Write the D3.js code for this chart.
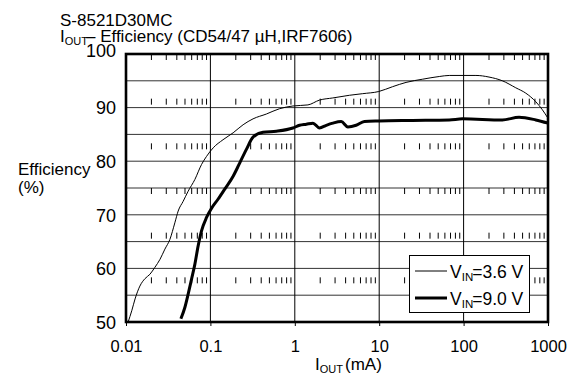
<!DOCTYPE html>
<html><head><meta charset="utf-8">
<script src="https://cdn.jsdelivr.net/npm/d3@7"></script>
<style>
html,body{margin:0;padding:0;background:#fff;}
text{font-family:Arial,"Liberation Sans",sans-serif;fill:#000;}
</style></head>
<body><svg id="c" width="579" height="381"></svg>
<script>
// ---- data ----
const xTickValues = [0.01, 0.1, 1, 10, 100, 1000];
const xTickLabels = ["0.01", "0.1", "1", "10", "100", "1000"];
const yTickValues = [50, 60, 70, 80, 90, 100];
const yGridValues = [55, 60, 65, 70, 75, 80, 85, 90, 95];
const seriesNames = ["3.6 V", "9.0 V"];

const thinI = [0.0106,0.0117,0.0128,0.0146,0.0168,0.0192,0.0220,0.0253,0.0289,0.0331,0.0379,0.0415,0.0475,0.0545,0.0655,0.0786,0.0900,0.108,0.141,0.186,0.244,0.320,0.460,0.661,0.95,1.43,1.96,2.82,4.44,6.38,9.87,14.4,20.8,32.7,51.5,67.6,140,200,288,415,545,716,857,1000];
const thinE = [50,52.1,54.3,56.7,58.1,58.9,60.2,61.7,63.6,65.4,68.5,70.7,72.5,74.4,76.6,79.4,80.9,82.5,84.0,85.3,86.8,87.9,88.8,89.8,90.3,90.5,91.4,91.8,92.3,92.6,93.0,93.9,94.7,95.3,95.8,96.0,96.0,95.7,95.0,93.7,92.7,91.1,89.6,88.0];

const thickI = [0.0447,0.0498,0.0545,0.0598,0.0655,0.0716,0.0785,0.0900,0.103,0.123,0.148,0.186,0.223,0.267,0.320,0.420,0.604,0.95,1.14,1.37,1.64,1.96,2.36,2.82,3.55,4.25,5.33,6.68,10,24.9,67.6,97,288,454,716,1000];
const thickE = [50.6,52.7,55.2,58.0,60.8,64.2,67.0,69.5,71.2,72.9,74.8,77.2,79.7,82.2,84.5,85.4,85.6,86.2,86.7,86.9,87.1,86.2,86.7,87.1,87.4,86.4,86.7,87.4,87.5,87.6,87.7,87.9,87.7,88.2,87.7,87.1];

// ---- layout ----
const L = 126, R = 548, T = 54, B = 322;
const svg = d3.select("#c");
const x = d3.scaleLog().domain([0.01, 1000]).range([L, R]);
const y = d3.scaleLinear().domain([50, 100]).range([B, T]);

// horizontal grid
svg.append("g").selectAll("line").data(yGridValues).join("line")
  .attr("x1", L).attr("x2", R).attr("y1", d => y(d)).attr("y2", d => y(d))
  .attr("stroke", "#333").attr("stroke-width", 1);
// vertical grid at decades
svg.append("g").selectAll("line").data(xTickValues.slice(1, -1)).join("line")
  .attr("x1", d => x(d)).attr("x2", d => x(d)).attr("y1", T).attr("y2", B)
  .attr("stroke", "#000").attr("stroke-width", 1);

// rows of minor ticks
const minor = [];
for (let e = -2; e < 3; e++) for (let m = 2; m <= 9; m++) minor.push(m * Math.pow(10, e));
const rows = d3.range(6).map(k => T + k * (B - T) / 6);
const mg = svg.append("g");
rows.forEach(ry => {
  mg.append("g").selectAll("line").data(minor).join("line")
    .attr("x1", d => x(d)).attr("x2", d => x(d)).attr("y1", ry).attr("y2", ry + 6)
    .attr("stroke", "#000").attr("stroke-width", 1);
});

// bottom axis
const xAxis = d3.axisBottom(x).tickValues(xTickValues).tickFormat((d, i) => xTickLabels[i]).tickSize(4).tickPadding(14);
const gx = svg.append("g").attr("transform", `translate(0,${B})`).call(xAxis);
gx.select(".domain").remove();
gx.selectAll("line").attr("stroke", "#000");
gx.selectAll("text").attr("font-size", 16.5).attr("font-family", "Arial, 'Liberation Sans', sans-serif");

// left axis labels
const yAxis = d3.axisLeft(y).tickValues(yTickValues).tickFormat(d3.format("d")).tickSize(0).tickPadding(10);
const gy = svg.append("g").attr("transform", `translate(${L},0)`).call(yAxis);
gy.select(".domain").remove();
gy.selectAll("text").attr("font-size", 18).attr("font-family", "Arial, 'Liberation Sans', sans-serif")
  .attr("dy", d => d === 100 ? "0.15em" : "0.35em");

// curves
svg.append("clipPath").attr("id", "clip").append("rect").attr("x", L).attr("y", T - 2).attr("width", R - L).attr("height", B - T + 2);
const line = d3.line().x(d => x(d[0])).y(d => y(d[1])).curve(d3.curveMonotoneX);
const thin = thinI.map((v, i) => [v, thinE[i]]);
const thick = thickI.map((v, i) => [v, thickE[i]]);
svg.append("path").attr("d", line(thin)).attr("fill", "none").attr("stroke", "#000").attr("stroke-width", 1).attr("clip-path", "url(#clip)");
svg.append("path").attr("d", line(thick)).attr("fill", "none").attr("stroke", "#000").attr("stroke-width", 3).attr("stroke-linejoin", "round").attr("clip-path", "url(#clip)");

// frame
svg.append("rect").attr("x", L).attr("y", T).attr("width", R - L).attr("height", B - T)
  .attr("fill", "none").attr("stroke", "#000").attr("stroke-width", 2.6);

// legend
const lg = svg.append("g");
lg.append("rect").attr("x", 409.5).attr("y", 255.5).attr("width", 120).attr("height", 57)
  .attr("fill", "#fff").attr("stroke", "#000").attr("stroke-width", 1);
const legY = [271, 298];
const legW = [1, 3];
seriesNames.forEach((s, i) => {
  lg.append("line").attr("x1", 415).attr("x2", 447).attr("y1", legY[i]).attr("y2", legY[i])
    .attr("stroke", "#000").attr("stroke-width", legW[i]);
  const t = lg.append("text").attr("x", 450).attr("y", legY[i] + 7).attr("font-size", 17.5);
  t.append("tspan").text("V");
  t.append("tspan").attr("font-size", 11.5).attr("dy", 3).text("IN");
  t.append("tspan").attr("dy", -3).attr("dx", -1).text("=" + s);
});

// titles
svg.append("text").attr("x", 60).attr("y", 26).attr("font-size", 17).text("S-8521D30MC");
const t2 = svg.append("text").attr("x", 60).attr("y", 42).attr("font-size", 17);
t2.append("tspan").text("I");
t2.append("tspan").attr("font-size", 11).attr("dy", 3).text("OUT");
t2.append("tspan").attr("dy", -3).attr("dx", -2).text("– Efficiency (CD54/47 µH,IRF7606)");

// y title
svg.append("text").attr("x", 18).attr("y", 175).attr("font-size", 17).text("Efficiency");
svg.append("text").attr("x", 18).attr("y", 193).attr("font-size", 17).text("(%)");

// x title
const xt = svg.append("text").attr("x", 315).attr("y", 370).attr("font-size", 17);
xt.append("tspan").text("I");
xt.append("tspan").attr("font-size", 11).attr("dy", 3).text("OUT");
xt.append("tspan").attr("dy", -3).attr("dx", 2).text("(mA)");
</script></body></html>
